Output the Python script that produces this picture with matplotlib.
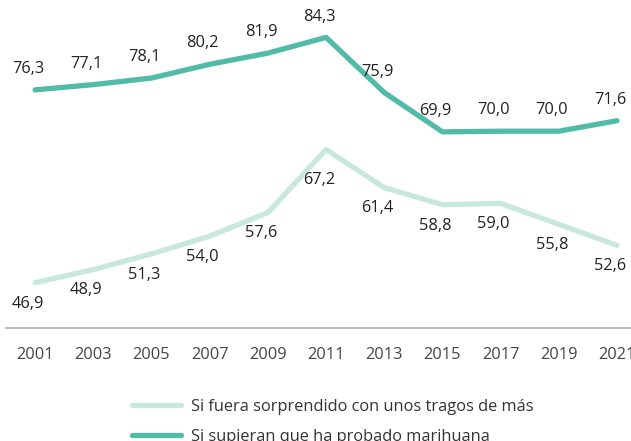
import matplotlib.pyplot as plt

# --- datos ---
anios = [2001, 2003, 2005, 2007, 2009, 2011, 2013, 2015, 2017, 2019, 2021]
tragos = [46.9, 48.9, 51.3, 54.0, 57.6, 67.2, 61.4, 58.8, 59.0, 55.8, 52.6]
marihuana = [76.3, 77.1, 78.1, 80.2, 81.9, 84.3, 75.9, 69.9, 70.0, 70.0, 71.6]
etiqueta_tragos = "Si fuera sorprendido con unos tragos de más"
etiqueta_marihuana = "Si supieran que ha probado marihuana"

color_claro = "#C8E7DE"
color_oscuro = "#52BBA8"

plt.rcParams["font.family"] = ["Open Sans", "DejaVu Sans"]

fig = plt.figure(figsize=(6.31, 4.41), dpi=100, facecolor="white")
ax = fig.add_axes([6 / 631, 113 / 441, 625 / 631, 328 / 441])

ax.plot(anios, tragos, color=color_claro, linewidth=3.8, solid_capstyle="round",
        label=etiqueta_tragos)
ax.plot(anios, marihuana, color=color_oscuro, linewidth=3.8, solid_capstyle="round",
        label=etiqueta_marihuana)

def fmt(v):
    return f"{v:.1f}".replace(".", ",")

for x, v in zip(anios, marihuana):
    ax.annotate(fmt(v), (x, v), xytext=(-5, 15), textcoords="offset points",
                ha="center", va="center", fontsize=11.8, color="#222222")

for x, v in zip(anios, tragos):
    dy = -22 if v == max(tragos) else -15
    ax.annotate(fmt(v), (x, v), xytext=(-5, dy), textcoords="offset points",
                ha="center", va="center", fontsize=11.8, color="#222222")

ax.set_xlim(2000, 2021.48)
ax.set_ylim(40, 90)
ax.set_xticks(anios)
ax.set_xticklabels([str(a) for a in anios], fontsize=11.8, color="#444444")
ax.tick_params(axis="x", length=0, pad=14)
ax.set_yticks([])
for lado in ["top", "right", "left"]:
    ax.spines[lado].set_visible(False)
ax.spines["bottom"].set_color("#BFBFBF")
ax.spines["bottom"].set_linewidth(1.5)

fig.legend(loc="center left", bbox_to_anchor=(132 / 631, 19 / 441), frameon=False,
           fontsize=11.8, handlelength=3.0, handletextpad=0.6, labelspacing=0.85,
           borderpad=0, borderaxespad=0, labelcolor="#333333")

fig.savefig("out.png", dpi=100, facecolor="white")
